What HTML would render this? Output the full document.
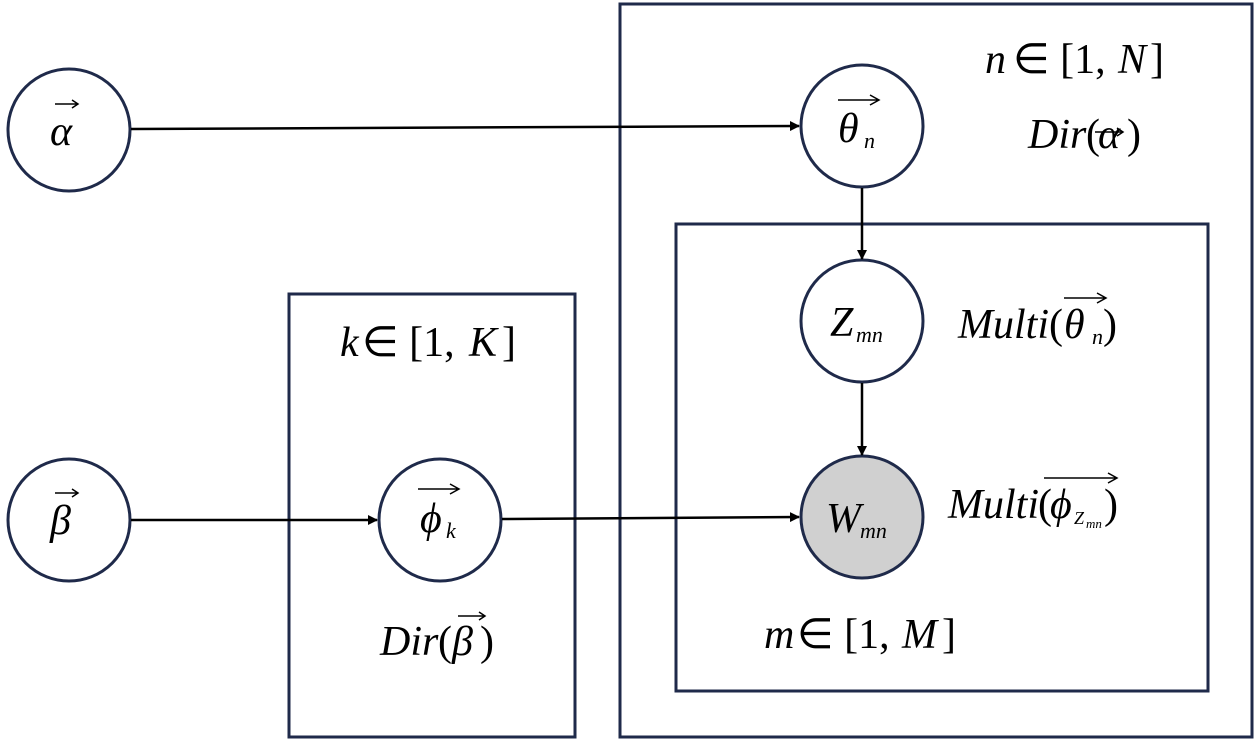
<!DOCTYPE html>
<html><head><meta charset="utf-8"><style>html,body{margin:0;padding:0;background:#fff}svg{display:block}</style></head>
<body>
<svg width="1260" height="741" viewBox="0 0 1260 741" xmlns="http://www.w3.org/2000/svg" font-family="Liberation Serif, serif" font-style="italic">
<defs><marker id="ah" markerWidth="10" markerHeight="10" refX="9" refY="5" orient="auto" markerUnits="userSpaceOnUse"><path d="M0,0 L10,5 L0,10 z" fill="#000"/></marker></defs>
<g fill="none" stroke="#1f2a4a" stroke-width="3">
<rect x="620" y="4" width="632" height="733"/>
<rect x="676" y="224" width="532" height="467"/>
<rect x="289" y="294" width="286" height="443"/>
<circle cx="69" cy="130" r="61" fill="#fff"/>
<circle cx="69" cy="520" r="61" fill="#fff"/>
<circle cx="862" cy="126" r="61" fill="#fff"/>
<circle cx="862" cy="321" r="61" fill="#fff"/>
<circle cx="862" cy="517" r="61" fill="#d0d0d0"/>
<circle cx="440" cy="520" r="61" fill="#fff"/>
</g>
<g stroke="#000" stroke-width="2.5" fill="none">
<line x1="131" y1="129" x2="799" y2="126" marker-end="url(#ah)"/>
<line x1="862" y1="188" x2="862" y2="259" marker-end="url(#ah)"/>
<line x1="862" y1="383" x2="862" y2="455" marker-end="url(#ah)"/>
<line x1="131" y1="520" x2="377" y2="520" marker-end="url(#ah)"/>
<line x1="502" y1="519" x2="799" y2="517" marker-end="url(#ah)"/>
</g>
<g stroke="#000" stroke-width="1.5" fill="none">
<path d="M55,104 H77 M72,100 L78,104 L72,108"/>
<path d="M55,493 H77 M72,489 L78,493 L72,497"/>
<path d="M838,100 H878 M870,95 L879,100 L870,105"/>
<path d="M418,489 H458 M450,484 L459,489 L450,494"/>
<path d="M1095,132 H1122 M1117,128 L1123,132 L1117,136"/>
<path d="M1064,298 H1105 M1097,293 L1106,298 L1097,303"/>
<path d="M1044,478 H1116 M1108,473 L1117,478 L1108,483"/>
<path d="M458,616 H484 M479,612 L485,616 L479,620"/>
</g>
<g font-size="42" fill="#000">
<text x="50" y="145">α</text>
<text x="50" y="534">β</text>
<text x="838" y="142">θ</text><text x="864" y="148" font-size="22">n</text>
<text x="830" y="336">Z</text><text x="856" y="342" font-size="22">mn</text>
<text x="826" y="532">W</text><text x="860" y="538" font-size="22">mn</text>
<text x="420" y="532">ϕ</text><text x="446" y="538" font-size="22">k</text>
<text x="985" y="73">n</text><text x="1013" y="73" font-style="normal">∈ [1,</text><text x="1118" y="73">N</text><text x="1150" y="73" font-style="normal">]</text>
<text x="1028" y="148">Dir</text><text x="1086" y="148" font-style="normal">(</text><text x="1098" y="148">α</text><text x="1127" y="148" font-style="normal">)</text>
<text x="958" y="338">Multi</text><text x="1049" y="338" font-style="normal">(</text><text x="1064" y="338">θ</text><text x="1092" y="344" font-size="22">n</text><text x="1103" y="338" font-style="normal">)</text>
<text x="948" y="518">Multi</text><text x="1038" y="518" font-style="normal">(</text><text x="1050" y="518">ϕ</text><text x="1074" y="524" font-size="18">Z</text><text x="1086" y="528" font-size="13">mn</text><text x="1104" y="518" font-style="normal">)</text>
<text x="340" y="356">k</text><text x="362" y="356" font-style="normal">∈ [1,</text><text x="469" y="356">K</text><text x="502" y="356" font-style="normal">]</text>
<text x="380" y="655">Dir</text><text x="438" y="655" font-style="normal">(</text><text x="452" y="655">β</text><text x="480" y="655" font-style="normal">)</text>
<text x="764" y="648">m</text><text x="797" y="648" font-style="normal">∈ [1,</text><text x="902" y="648">M</text><text x="942" y="648" font-style="normal">]</text>
</g>
</svg>
</body></html>
